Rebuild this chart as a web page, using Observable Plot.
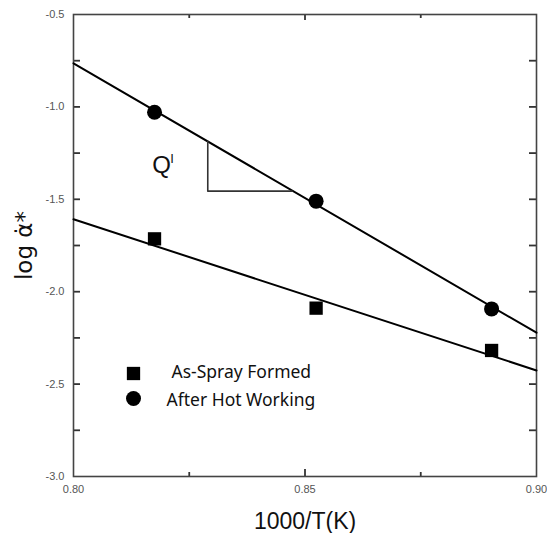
<!DOCTYPE html>
<html><head><meta charset="utf-8">
<script src="https://cdn.jsdelivr.net/npm/d3@7"></script>
<script src="https://cdn.jsdelivr.net/npm/@observablehq/plot@0.6"></script>
<style>body{margin:0;background:#fff}</style>
</head><body><div id="chart"></div>
<script>
// ---- data ----
const seriesNames = ["As-Spray Formed", "After Hot Working"];
const xValues = [0.8175, 0.8524, 0.8903];
const asSprayFormed = [-1.714, -2.089, -2.318];
const afterHotWorking = [-1.029, -1.510, -2.093];
const fitX = [0.80, 0.90];
const asSprayFit = [-1.608, -2.426];
const afterHotFit = [-0.764, -2.222];
const triangleX = [0.829, 0.829, 0.8472];
const triangleY = [-1.186, -1.456, -1.456];
const slopeLabel = ["Q", "I"];
const slopeLabelX = [0.8170, 0.8213];
const slopeLabelY = [-1.358, -1.306];
const xTicks = [0.80, 0.85, 0.90];
const xMinorTicks = [0.825, 0.875];
const yTicks = [-3.0, -2.5, -2.0, -1.5, -1.0, -0.5];
const yMinorTicks = [-2.75, -2.25, -1.75, -1.25, -0.75];
const xLabel = "1000/T(K)";
const yLabel = "log α̇*";

// ---- layout ----
const W = 547, H = 533;
const mL = 73, mR = 11, mT = 14, mB = 57;
const fw = W - mL - mR, fh = H - mT - mB;

const pts = (xs, ys) => xs.map((x, i) => ({x, y: ys[i]}));
const squares = pts(xValues, asSprayFormed);
const circles = pts(xValues, afterHotWorking);
const fitLow = pts(fitX, asSprayFit);
const fitHigh = pts(fitX, afterHotFit);
const tri = pts(triangleX, triangleY);
const qLabels = slopeLabel.map((t, i) => ({t, x: slopeLabelX[i], y: slopeLabelY[i]}));
const innerYTicks = yTicks.slice(1, -1).concat(yMinorTicks);
const tickStyle = {stroke: "#333", strokeWidth: 1.8};

const chart = Plot.plot({
  width: W, height: H,
  marginLeft: mL, marginRight: mR, marginTop: mT, marginBottom: mB,
  style: {background: "#fff", fontFamily: "Liberation Sans, Arial, sans-serif"},
  x: {domain: [0.80, 0.90]},
  y: {domain: [-3.0, -0.5]},
  marks: [
    Plot.axisY(yTicks, {anchor: "left", tickSize: 0, tickPadding: 9, tickFormat: d => d.toFixed(1), fontSize: 11, fill: "#555", label: null}),
    Plot.axisX(xTicks, {anchor: "bottom", tickSize: 0, tickPadding: 9, tickFormat: d => d.toFixed(2), fontSize: 11, fill: "#555", label: null, letterSpacing: "1px"}),
    // inward ticks
    Plot.tickY(innerYTicks, {y: d => d, insetRight: fw - 7, ...tickStyle}),
    Plot.tickY(innerYTicks, {y: d => d, insetLeft: fw - 7, ...tickStyle}),
    Plot.tickX(xTicks.slice(1, 2), {x: d => d, insetTop: fh - 7, ...tickStyle}),
    Plot.tickX(xTicks.slice(1, 2), {x: d => d, insetBottom: fh - 6, ...tickStyle}),
    Plot.tickX(xMinorTicks, {x: d => d, insetTop: fh - 4, ...tickStyle}),
    Plot.tickX(xMinorTicks, {x: d => d, insetBottom: fh - 4, ...tickStyle}),
    Plot.frame({stroke: "#444", strokeWidth: 1.6}),
    // fit lines
    Plot.line(fitHigh, {x: "x", y: "y", stroke: "#000", strokeWidth: 2}),
    Plot.line(fitLow, {x: "x", y: "y", stroke: "#000", strokeWidth: 2}),
    // slope triangle
    Plot.line(tri, {x: "x", y: "y", stroke: "#333", strokeWidth: 1.6}),
    Plot.text(qLabels.slice(0, 1), {x: "x", y: "y", text: "t", textAnchor: "start", lineAnchor: "bottom", fontSize: 24, fill: "#111"}),
    Plot.text(qLabels.slice(1), {x: "x", y: "y", text: "t", textAnchor: "middle", lineAnchor: "bottom", fontSize: 13, fill: "#111"}),
    // data points
    Plot.dot(squares, {x: "x", y: "y", symbol: "square", r: 7.5, fill: "#000"}),
    Plot.dot(circles, {x: "x", y: "y", symbol: "circle", r: 7.5, fill: "#000"}),
    // legend
    Plot.dot([seriesNames[0]], {frameAnchor: "top-left", dx: 60, dy: 359, symbol: "square", r: 7.5, fill: "#000"}),
    Plot.dot([seriesNames[1]], {frameAnchor: "top-left", dx: 60, dy: 384, symbol: "circle", r: 7.5, fill: "#000"}),
    Plot.text([seriesNames[0]], {text: d => d, frameAnchor: "top-left", dx: 98, dy: 358, textAnchor: "start", lineAnchor: "middle", fontSize: 17.5, fontFamily: "Noto Sans", fill: "#111"}),
    Plot.text([seriesNames[1]], {text: d => d, frameAnchor: "top-left", dx: 93, dy: 386, textAnchor: "start", lineAnchor: "middle", fontSize: 17.5, fontFamily: "Noto Sans", fill: "#111"}),
    // axis titles
    Plot.text([xLabel], {text: d => d, frameAnchor: "bottom", dy: 52, textAnchor: "middle", lineAnchor: "bottom", fontSize: 23, fill: "#111"}),
    Plot.text([yLabel], {text: d => d, frameAnchor: "left", dx: -42, rotate: -90, textAnchor: "middle", lineAnchor: "bottom", fontSize: 23, fontFamily: "DejaVu Sans", fill: "#111"})
  ]
});
document.getElementById("chart").append(chart);
</script>
</body></html>
